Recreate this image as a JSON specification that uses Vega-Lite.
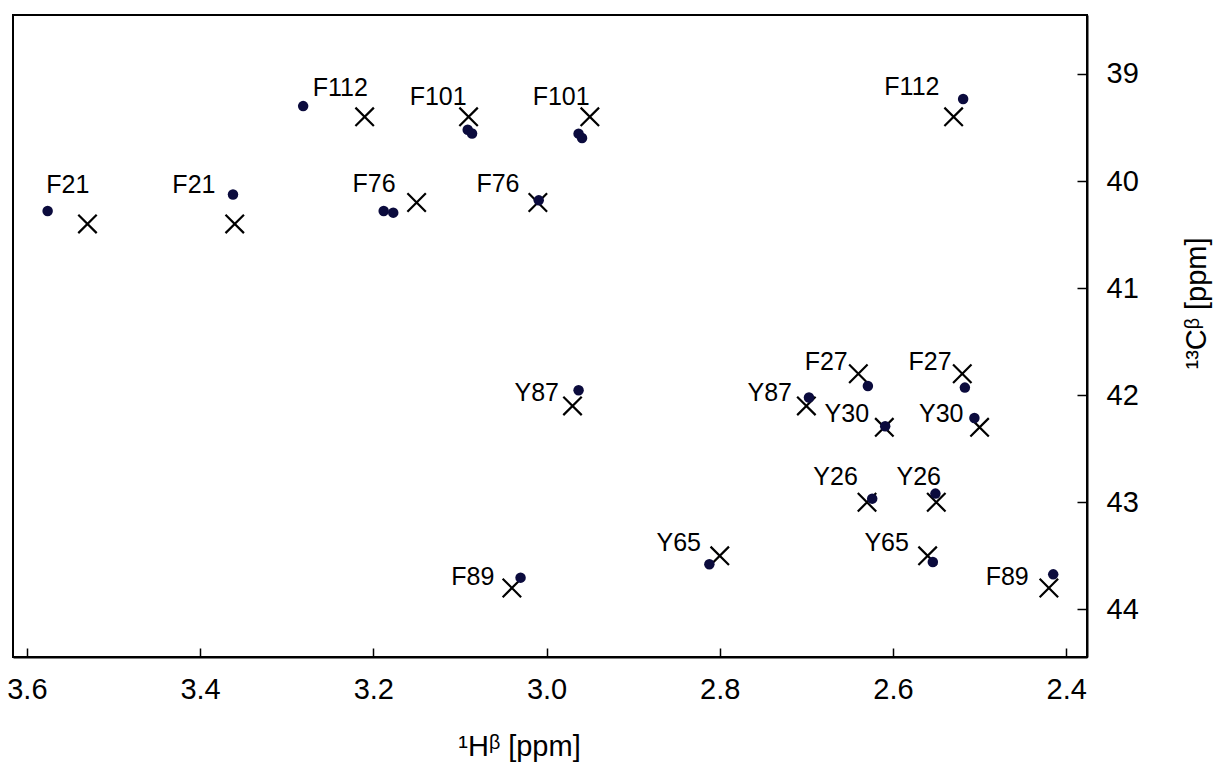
{
  "$schema": "https://vega.github.io/schema/vega-lite/v6.json",
  "width": 1074,
  "height": 642,
  "autosize": {"type": "none"},
  "padding": {"left": 13, "top": 15, "right": 128, "bottom": 107},
  "background": "white",
  "config": {
    "view": {"stroke": "black", "strokeWidth": 2},
    "font": "Liberation Sans",
    "axis": {"grid": false, "domainColor": "black", "domainWidth": 2, "tickColor": "black", "tickWidth": 1.5, "labelColor": "black", "titleColor": "black", "labelFont": "Liberation Sans", "titleFont": "Liberation Sans", "labelFontSize": 29, "titleFontSize": 29, "titleFontWeight": "normal"}
  },
  "datasets": {
    "circles": [
      {"x": 3.576, "y": 40.28}, {"x": 3.362, "y": 40.126}, {"x": 3.281, "y": 39.30},
      {"x": 3.188, "y": 40.28}, {"x": 3.177, "y": 40.295},
      {"x": 3.091, "y": 39.52}, {"x": 3.086, "y": 39.556},
      {"x": 2.963, "y": 39.557}, {"x": 2.959, "y": 39.598},
      {"x": 3.009, "y": 40.18}, {"x": 2.519, "y": 39.233},
      {"x": 2.963, "y": 41.954}, {"x": 2.697, "y": 42.022},
      {"x": 3.030, "y": 43.704}, {"x": 2.812, "y": 43.579},
      {"x": 2.629, "y": 41.914}, {"x": 2.517, "y": 41.929},
      {"x": 2.609, "y": 42.29}, {"x": 2.506, "y": 42.213},
      {"x": 2.624, "y": 42.966}, {"x": 2.551, "y": 42.919},
      {"x": 2.554, "y": 43.558}, {"x": 2.415, "y": 43.673}
    ],
    "crosses": [
      {"x": 3.53, "y": 40.4}, {"x": 3.36, "y": 40.4},
      {"x": 3.21, "y": 39.4}, {"x": 2.53, "y": 39.4},
      {"x": 3.15, "y": 40.2}, {"x": 3.01, "y": 40.2},
      {"x": 3.09, "y": 39.4}, {"x": 2.95, "y": 39.4},
      {"x": 2.97, "y": 42.1}, {"x": 2.70, "y": 42.1},
      {"x": 3.04, "y": 43.8}, {"x": 2.42, "y": 43.8},
      {"x": 2.80, "y": 43.5}, {"x": 2.56, "y": 43.5},
      {"x": 2.64, "y": 41.8}, {"x": 2.52, "y": 41.8},
      {"x": 2.61, "y": 42.3}, {"x": 2.50, "y": 42.3},
      {"x": 2.63, "y": 43.0}, {"x": 2.55, "y": 43.0}
    ],
    "labels": [
      {"label": "F21", "x": 3.5776, "y": 40.114},
      {"label": "F21", "x": 3.432, "y": 40.114},
      {"label": "F112", "x": 3.270, "y": 39.208},
      {"label": "F101", "x": 3.158, "y": 39.292},
      {"label": "F101", "x": 3.016, "y": 39.292},
      {"label": "F76", "x": 3.224, "y": 40.102},
      {"label": "F76", "x": 3.081, "y": 40.102},
      {"label": "F112", "x": 2.610, "y": 39.199},
      {"label": "Y87", "x": 3.037, "y": 42.057},
      {"label": "Y87", "x": 2.768, "y": 42.057},
      {"label": "F89", "x": 3.110, "y": 43.775},
      {"label": "Y65", "x": 2.873, "y": 43.455},
      {"label": "F27", "x": 2.702, "y": 41.767},
      {"label": "F27", "x": 2.582, "y": 41.767},
      {"label": "Y30", "x": 2.679, "y": 42.250},
      {"label": "Y30", "x": 2.570, "y": 42.250},
      {"label": "Y26", "x": 2.692, "y": 42.841},
      {"label": "Y26", "x": 2.596, "y": 42.841},
      {"label": "Y65", "x": 2.633, "y": 43.455},
      {"label": "F89", "x": 2.493, "y": 43.775}
    ]
  },
  "encoding": {
    "x": {
      "field": "x", "type": "quantitative",
      "scale": {"domain": [2.376, 3.616], "reverse": true, "nice": false, "zero": false},
      "axis": {"orient": "bottom", "values": [3.6, 3.4, 3.2, 3.0, 2.8, 2.6, 2.4], "format": ".1f", "tickSize": -9, "labelPadding": 27, "title": "¹Hᵝ [ppm]", "titleX": 506, "titleY": 98, "titleAlign": "center", "titleBaseline": "alphabetic", "labelFlush": false}
    },
    "y": {
      "field": "y", "type": "quantitative",
      "scale": {"domain": [38.449, 44.445], "reverse": true, "nice": false, "zero": false},
      "axis": {"orient": "right", "values": [39, 40, 41, 42, 43, 44], "format": "d", "tickSize": -10, "labelPadding": 29, "title": "¹³Cᵝ [ppm]", "titleAngle": -90, "titleX": 118, "titleY": 288, "titleAlign": "center", "titleBaseline": "alphabetic", "labelFlush": false}
    }
  },
  "layer": [
    {
      "data": {"name": "crosses"},
      "mark": {"type": "point", "shape": "M-1,-1L1,1M1,-1L-1,1", "size": 340, "stroke": "black", "strokeWidth": 2.2, "filled": false, "opacity": 1}
    },
    {
      "data": {"name": "circles"},
      "mark": {"type": "point", "shape": "circle", "size": 110, "filled": true, "color": "#0b0b3d", "opacity": 1}
    },
    {
      "data": {"name": "labels"},
      "mark": {"type": "text", "align": "left", "baseline": "alphabetic", "fontSize": 25, "font": "Liberation Sans", "color": "black"},
      "encoding": {"text": {"field": "label", "type": "nominal"}}
    }
  ]
}
